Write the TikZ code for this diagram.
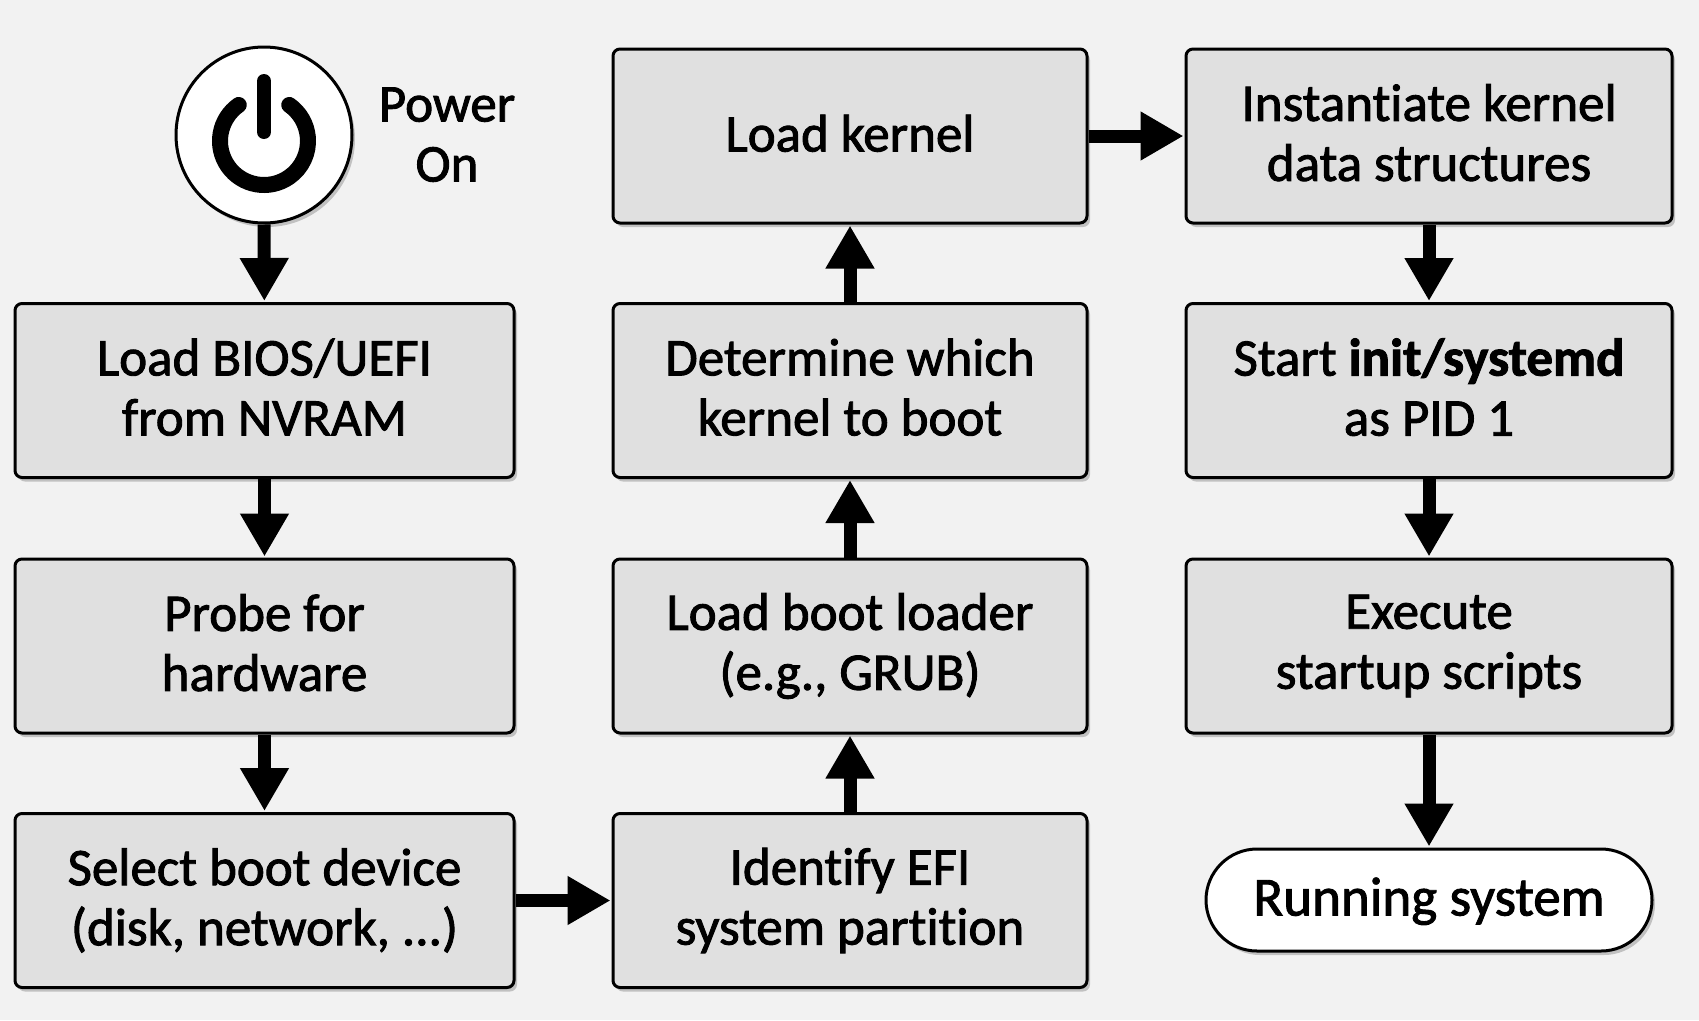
\documentclass[tikz,border=0pt]{standalone}
\usepackage{fontspec}
\setmainfont[FakeBold=1.7, Ligatures=NoCommon]{Carlito}
\usetikzlibrary{arrows.meta,shadows}
\definecolor{pagegray}{HTML}{F2F2F2}
\definecolor{boxgray}{HTML}{E0E0E0}
\newcommand{\linestrut}{\rule[-7pt]{0pt}{55pt}}
\tikzset{
	softshadow/.style={drop shadow={shadow xshift=3pt, shadow yshift=-4pt, opacity=0.2, fill=black}},
	stepbox/.style={draw, line width=3pt, rounded corners=7pt, fill=boxgray, softshadow, align=center, minimum height=174pt, inner sep=0pt},
	flowarrow/.style={line width=13pt, -{Triangle[width=46pt, length=43pt]}, shorten >=1pt},
	label text/.style={font=\fontsize{53}{60}\selectfont, execute at begin node=\linestrut, execute at end node=\linestrut},
	oneline/.style={execute at end node=\rule[-17pt]{0pt}{1pt}}
}
\begin{document}
\begin{tikzpicture}[x=1pt, y=-1pt, every node/.append style={label text}]
	\useasboundingbox[fill=pagegray] (0,0) rectangle (1699,1020);
% Power button
	\node[circle, draw, line width=3pt, fill=white, softshadow, minimum size=176pt, inner sep=0pt] (power) at (264,135) {};
	\draw[line width=16pt, line cap=round] ([shift={(125:44pt)}]264,141) arc[start angle=125, delta angle=290, radius=44pt];
	\draw[line width=14pt, line cap=round] (264,81) -- (264,132);
	\node[align=center] (poweron) at (447,138) {Power\\On};
% First column
	\node[stepbox, minimum width=499pt] (bios) at (264.5,390.5) {Load BIOS/UEFI\\from NVRAM};
	\node[stepbox, minimum width=499pt] (probe) at (264.5,646) {Probe for\\hardware};
	\node[stepbox, minimum width=499pt] (select) at (264.5,900.5) {Select boot device\\(disk, network, ...)};
% Second column
	\node[stepbox, minimum width=474pt] (efi) at (850,900.5) {Identify EFI\\system partition};
	\node[stepbox, minimum width=474pt] (loader) at (850,646) {Load boot loader\\(e.g., GRUB)};
	\node[stepbox, minimum width=474pt] (which) at (850,390.5) {Determine which\\kernel to boot};
	\node[stepbox, oneline, minimum width=474pt] (kernel) at (850,136) {Load kernel};
% Third column
	\node[stepbox, minimum width=486pt] (structures) at (1429,136) {Instantiate kernel\\data structures};
	\node[stepbox, minimum width=486pt] (init) at (1429,390.5) {Start \textbf{init/systemd}\\as PID 1};
	\node[stepbox, minimum width=486pt] (scripts) at (1429,646) {Execute\\startup scripts};
	\node[draw, oneline, line width=3pt, rounded corners=51pt, fill=white, softshadow, minimum width=446pt, minimum height=102pt, inner sep=0pt, font=\fontsize{55}{60}\selectfont] (running) at (1429,900) {Running system};
% Arrows
	\draw[flowarrow] (power) -- (bios);
	\draw[flowarrow] (bios) -- (probe);
	\draw[flowarrow] (probe) -- (select);
	\draw[flowarrow] (select) -- (efi);
	\draw[flowarrow] (efi) -- (loader);
	\draw[flowarrow] (loader) -- (which);
	\draw[flowarrow] (which) -- (kernel);
	\draw[flowarrow] (kernel) -- (structures);
	\draw[flowarrow] (structures) -- (init);
	\draw[flowarrow] (init) -- (scripts);
	\draw[flowarrow] (scripts) -- (running);
\end{tikzpicture}
\end{document}
